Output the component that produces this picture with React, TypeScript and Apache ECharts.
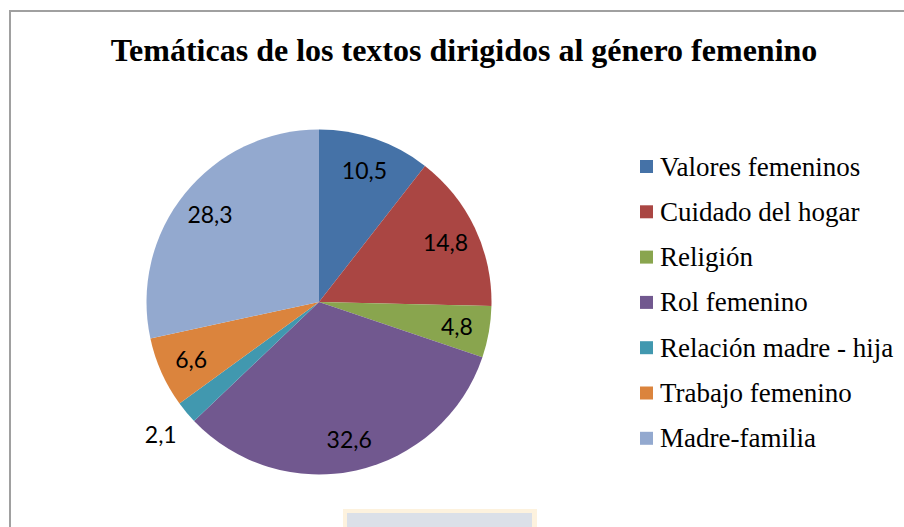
import React, { useEffect, useRef } from "react";
import * as echarts from "echarts";

const TITLE = "Temáticas de los textos dirigidos al género femenino";
const categories = [
  "Valores femeninos",
  "Cuidado del hogar",
  "Religión",
  "Rol femenino",
  "Relación madre - hija",
  "Trabajo femenino",
  "Madre-familia",
];
const values = [10.5, 14.8, 4.8, 32.6, 2.1, 6.6, 28.3];
const colors = ["#4572a7", "#aa4643", "#89a54e", "#71588f", "#4198af", "#db843d", "#93a9cf"];
const outsideLabels = ["Relación madre - hija"];

const fmt = (p: any) => String(p.value).replace(".", ",");

export default function App() {
  const ref = useRef<HTMLDivElement>(null);
  useEffect(() => {
    if (!ref.current) return;
    const chart = echarts.init(ref.current, null, { renderer: "svg" });
    const labelFont = { fontFamily: "Lato", fontSize: 23, color: "#000" };
    const baseData = categories.map((name, i) => ({
      name,
      value: values[i],
      itemStyle: { color: colors[i] },
    }));
    chart.setOption({
      animation: false,
      backgroundColor: "#fff",
      legend: {
        orient: "vertical",
        left: 635,
        top: 148,
        itemWidth: 13,
        itemHeight: 13,
        itemGap: 18.3,
        icon: "rect",
        selectedMode: false,
        data: categories,
        textStyle: {
          fontFamily: "Liberation Serif",
          fontSize: 27,
          lineHeight: 26,
          color: "#000",
          padding: [0, 0, 0, 2],
        },
      },
      graphic: [
        {
          type: "polyline",
          shape: { points: [[10, 527], [10, 11], [904, 11]] },
          style: { stroke: "#a0a0a0", lineWidth: 2, fill: "none" },
          silent: true,
        },
        {
          type: "rect",
          shape: { x: 343, y: 509, width: 194, height: 30 },
          style: { fill: "#fdf2de" },
          silent: true,
        },
        {
          type: "rect",
          shape: { x: 347, y: 513, width: 185, height: 20 },
          style: { fill: "#dbe0e8" },
          silent: true,
        },
        {
          type: "text",
          x: 464,
          y: 50,
          style: {
            text: TITLE,
            textAlign: "center",
            textVerticalAlign: "middle",
            font: 'bold 32px "Liberation Serif"',
            fill: "#000",
          },
          silent: true,
        },
      ],
      series: [
        {
          type: "pie",
          center: [319, 302],
          radius: 172.5,
          startAngle: 90,
          clockwise: true,
          label: { show: false },
          labelLine: { show: false },
          emphasis: { disabled: true },
          itemStyle: { borderWidth: 0 },
          data: baseData,
        },
        {
          type: "pie",
          center: [319, 302],
          radius: [127, 147],
          startAngle: 90,
          silent: true,
          emphasis: { disabled: true },
          itemStyle: { color: "rgba(0,0,0,0)" },
          labelLine: { show: false },
          data: categories.map((name, i) => ({
            name,
            value: values[i],
            itemStyle: { color: "rgba(0,0,0,0)" },
            label: { show: !outsideLabels.includes(name) },
          })),
          label: { position: "inside", formatter: fmt, ...labelFont },
        },
        {
          type: "pie",
          center: [319, 302],
          radius: [193, 213],
          startAngle: 90,
          silent: true,
          emphasis: { disabled: true },
          itemStyle: { color: "rgba(0,0,0,0)" },
          labelLine: { show: false },
          data: categories.map((name, i) => ({
            name,
            value: values[i],
            itemStyle: { color: "rgba(0,0,0,0)" },
            label: { show: outsideLabels.includes(name) },
          })),
          label: { position: "inside", formatter: fmt, ...labelFont },
        },
      ],
    });
    return () => chart.dispose();
  }, []);
  return (
    <div
      ref={ref}
      style={{ position: "fixed", left: 0, top: 0, width: 904, height: 527 }}
    />
  );
}
